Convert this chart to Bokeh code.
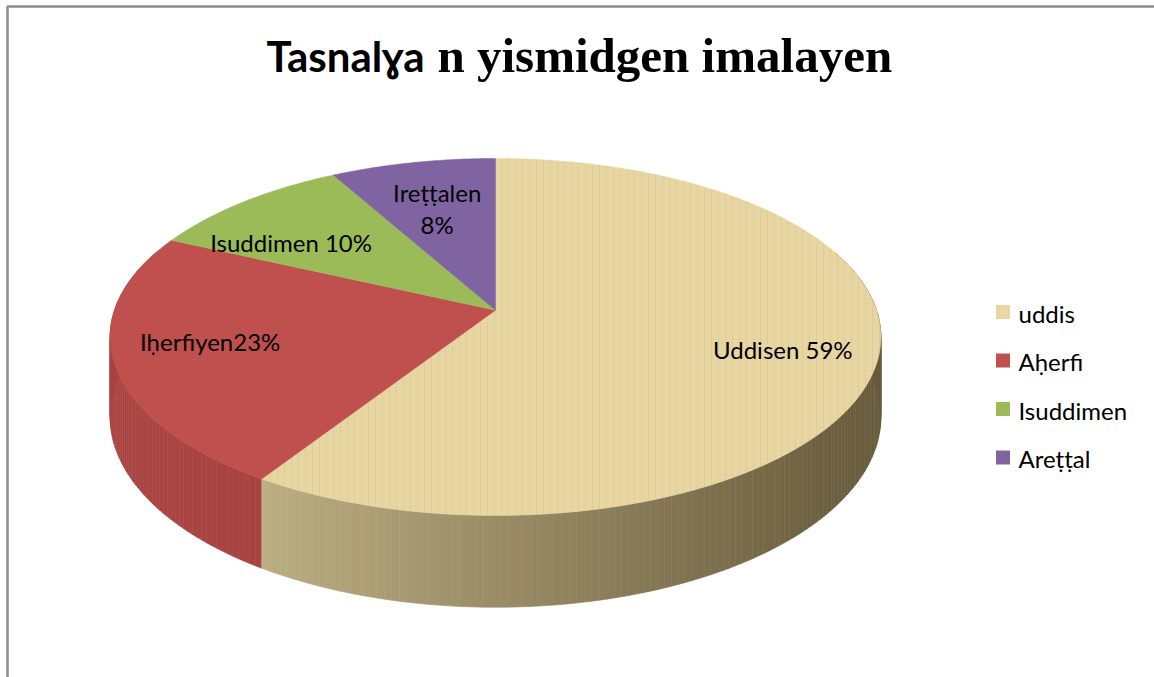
import numpy as np
from bokeh.plotting import figure
from bokeh.models import Range1d
from bokeh.core.properties import value
from bokeh.embed import file_html
from bokeh.resources import INLINE

# ---------------- data ----------------
categories = ["uddis", "Aḥerfi", "Isuddimen", "Areṭṭal"]
values = [59, 23, 10, 8]
data_labels = ["Uddisen 59%", "Iḥerfiyen23%", "Isuddimen 10%", "Ireṭṭalen\n8%"]
title_part1 = "Tasnalɣa"
title_part2 = "n yismidgen imalayen"

# ---------------- styles / layout ----------------
top_colors = ["#E8D6A3", "#C0504D", "#9BBB59", "#8064A2"]
side_light = ["#CBBD8F", "#A94542", "#83A049", "#6A5390"]
side_dark = ["#685B3C", "#973C3A", "#6F8A3D", "#5A4579"]
label_r = [0.75, 0.75, 0.75, 0.60]
label_shift = [(4, 2), (-2, -6), (-11, 15), (-6, -8)]

W, H = 1154, 677
CX, CY = 495.0, 309.7       # centre of the projected top face
SX, SY = 381.0, 174.5       # horizontal / vertical projected radii
KP = 0.15                   # perspective strength
DEPTH = 78.0                # thickness of the disc


def proj(theta_deg, r=1.0, drop=0.0):
    t = np.radians(theta_deg)
    X = r * np.sin(t)
    Z = r * np.cos(t)
    d = 1.0 + KP * Z
    return CX + SX * X / d, CY - SY * Z / d + drop / d


def hex2rgb(h):
    h = h.lstrip("#")
    return np.array([int(h[i:i + 2], 16) for i in (0, 2, 4)], dtype=float)


def mix(c1, c2, f):
    c = hex2rgb(c1) * (1 - f) + hex2rgb(c2) * f
    return "#%02x%02x%02x" % tuple(int(round(v)) for v in c)


p = figure(width=W, height=H, x_range=Range1d(0, W), y_range=Range1d(H, 0),
           output_backend="svg", toolbar_location=None, min_border=0,
           background_fill_color="white", border_fill_color="white")
p.axis.visible = False
p.grid.visible = False
p.outline_line_color = None

# chart border (top and left edges visible)
p.line(x=[7, 7, W], y=[H, 6, 6], line_color="#8C8C8C", line_width=2.5)

total = float(sum(values))
bounds = np.concatenate([[0.0], np.cumsum(values) / total * 360.0])

# ---------------- side wall (strips, back to front) ----------------
strips = []
for i in range(len(values)):
    a0, a1 = bounds[i], bounds[i + 1]
    n = max(2, int(np.ceil((a1 - a0) / 1.0)))
    edges = np.linspace(a0, a1, n + 1)
    for j in range(n):
        s0, s1 = edges[j], edges[j + 1]
        mid = 0.5 * (s0 + s1)
        if np.cos(np.radians(mid)) > 0.35:
            continue
        xs0, ys0 = proj(s0)
        xs1, ys1 = proj(s1)
        xb1, yb1 = proj(s1, drop=DEPTH)
        xb0, yb0 = proj(s0, drop=DEPTH)
        xm = proj(mid)[0]
        f = np.clip((xm - 180.0) / (870.0 - 180.0), 0, 1) ** 0.9
        col = mix(side_light[i], side_dark[i], f)
        strips.append((np.cos(np.radians(mid)), [xs0, xs1, xb1, xb0], [ys0, ys1, yb1, yb0], col))

strips.sort(key=lambda s: -s[0])
p.patches(xs=[s[1] for s in strips], ys=[s[2] for s in strips],
          fill_color=[s[3] for s in strips], line_color=[s[3] for s in strips],
          line_width=0.6)

# ---------------- top face ----------------
txs, tys = [], []
for i in range(len(values)):
    a0, a1 = bounds[i], bounds[i + 1]
    ang = np.linspace(a0, a1, max(3, int((a1 - a0) * 2)))
    xx, yy = proj(ang)
    txs.append([CX] + list(xx))
    tys.append([proj(0, r=0.0)[1]] + list(yy))

p.patches(xs=txs, ys=tys, fill_color=top_colors, line_color=top_colors, line_width=0.5)
# subtle texture on the textured slice
p.patches(xs=[txs[0]], ys=[tys[0]], fill_alpha=0, line_alpha=0,
          hatch_pattern="|", hatch_color="#B9A46E", hatch_alpha=0.18, hatch_scale=7, hatch_weight=1)
p.patches(xs=[txs[0]], ys=[tys[0]], fill_alpha=0, line_alpha=0,
          hatch_pattern="-", hatch_color="#C9B47E", hatch_alpha=0.15, hatch_scale=4, hatch_weight=1)

# ---------------- data labels ----------------
lx, ly = [], []
for i in range(len(values)):
    mid = 0.5 * (bounds[i] + bounds[i + 1])
    x, y = proj(mid, r=label_r[i])
    lx.append(x + label_shift[i][0])
    ly.append(y + label_shift[i][1])
p.text(x=lx, y=ly, text=data_labels, text_font=value("Lato"), text_font_size="24px",
       text_color="#000000", text_align="center", text_baseline="middle",
       text_line_height=1.1)

# ---------------- title ----------------
p.text(x=[424], y=[55], text=[title_part1], text_font=value("Lato"), text_font_size="42px",
       text_font_style="bold", text_color="#000000", text_align="right",
       text_baseline="alphabetic")
p.text(x=[437], y=[55], text=[title_part2], text_font=value("Liberation Serif"),
       text_font_size="49px", text_font_style="bold", text_color="#000000",
       text_align="left", text_baseline="alphabetic")

# ---------------- legend ----------------
leg_y = [311.5 + 48.5 * i for i in range(len(categories))]
p.rect(x=[1002.5] * len(categories), y=leg_y, width=14, height=14,
       width_units="screen", height_units="screen",
       fill_color=top_colors, line_color=None)
p.text(x=[1018] * len(categories), y=[y + 1 for y in leg_y], text=categories,
       text_font=value("Lato"), text_font_size="24px", text_color="#000000",
       text_align="left", text_baseline="middle")

open("out.html", "w").write(file_html(p, INLINE))
